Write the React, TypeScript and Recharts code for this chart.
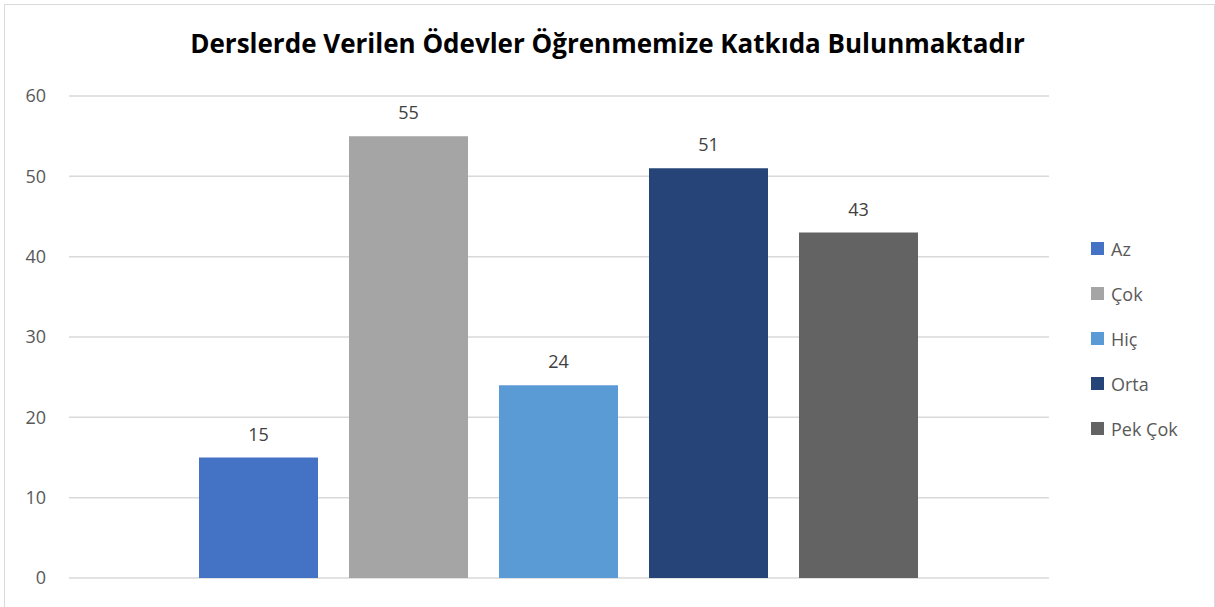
import React from "react";
import { BarChart, Bar, XAxis, YAxis, CartesianGrid, LabelList } from "recharts";

const TITLE = "Derslerde Verilen Ödevler Öğrenmemize Katkıda Bulunmaktadır";
const SERIES = ["Az", "Çok", "Hiç", "Orta", "Pek Çok"];
const VALUES = [15, 55, 24, 51, 43];
const Y_TICKS = [0, 10, 20, 30, 40, 50, 60];
const COLORS = ["#4472C4", "#A5A5A5", "#5B9BD5", "#264478", "#636363"];

const FONT = "'Open Sans', sans-serif";

// one category row, one key per series
const row: Record<string, number | string> = { name: "" };
SERIES.forEach((s, i) => {
  row[s] = VALUES[i];
});
const data = [row];

export default function App() {
  return (
    <div
      style={{
        position: "absolute",
        left: 0,
        top: 0,
        width: 1215,
        height: 607,
        background: "#fff",
        overflow: "hidden",
      }}
    >
      {/* chart border */}
      <div
        style={{
          position: "absolute",
          left: 4,
          top: 4,
          width: 1209,
          height: 620,
          border: "1px solid #d9d9d9",
        }}
      />
      {/* Title */}
      <div
        style={{
          position: "absolute",
          left: 0,
          top: 26,
          width: 1215,
          textAlign: "center",
          fontFamily: FONT,
          fontWeight: 700,
          fontSize: 26,
          color: "#000",
          lineHeight: "34px",
        }}
      >
        {TITLE}
      </div>
      <div style={{ position: "absolute", left: 0, top: 0 }}>
        <BarChart
          width={1215}
          height={607}
          data={data}
          margin={{ top: 96, right: 166, bottom: 29, left: 0 }}
          barCategoryGap={130}
          barGap={31}
        >
          <CartesianGrid horizontal vertical={false} stroke="#d9d9d9" strokeWidth={1.5} />
          <XAxis dataKey="name" hide />
          <YAxis
            width={69}
            domain={[0, 60]}
            ticks={Y_TICKS}
            interval={0}
            axisLine={false}
            tickLine={false}
            tickMargin={17}
            tick={{ fill: "#595959", fontSize: 18, fontFamily: FONT }}
          />
          {SERIES.map((s, i) => (
            <Bar key={s} dataKey={s} fill={COLORS[i]} isAnimationActive={false}>
              <LabelList
                dataKey={s}
                position="top"
                offset={17}
                style={{ fill: "#404040", fontSize: 18, fontFamily: FONT }}
              />
            </Bar>
          ))}
        </BarChart>
      </div>
      {/* Legend */}
      <div style={{ position: "absolute", left: 1091, top: 226, fontFamily: FONT }}>
        {SERIES.map((s, i) => (
          <div key={s} style={{ display: "flex", alignItems: "center", height: 45 }}>
            <span style={{ width: 13, height: 13, background: COLORS[i], marginRight: 7 }} />
            <span style={{ fontSize: 18, color: "#595959" }}>{s}</span>
          </div>
        ))}
      </div>
    </div>
  );
}
